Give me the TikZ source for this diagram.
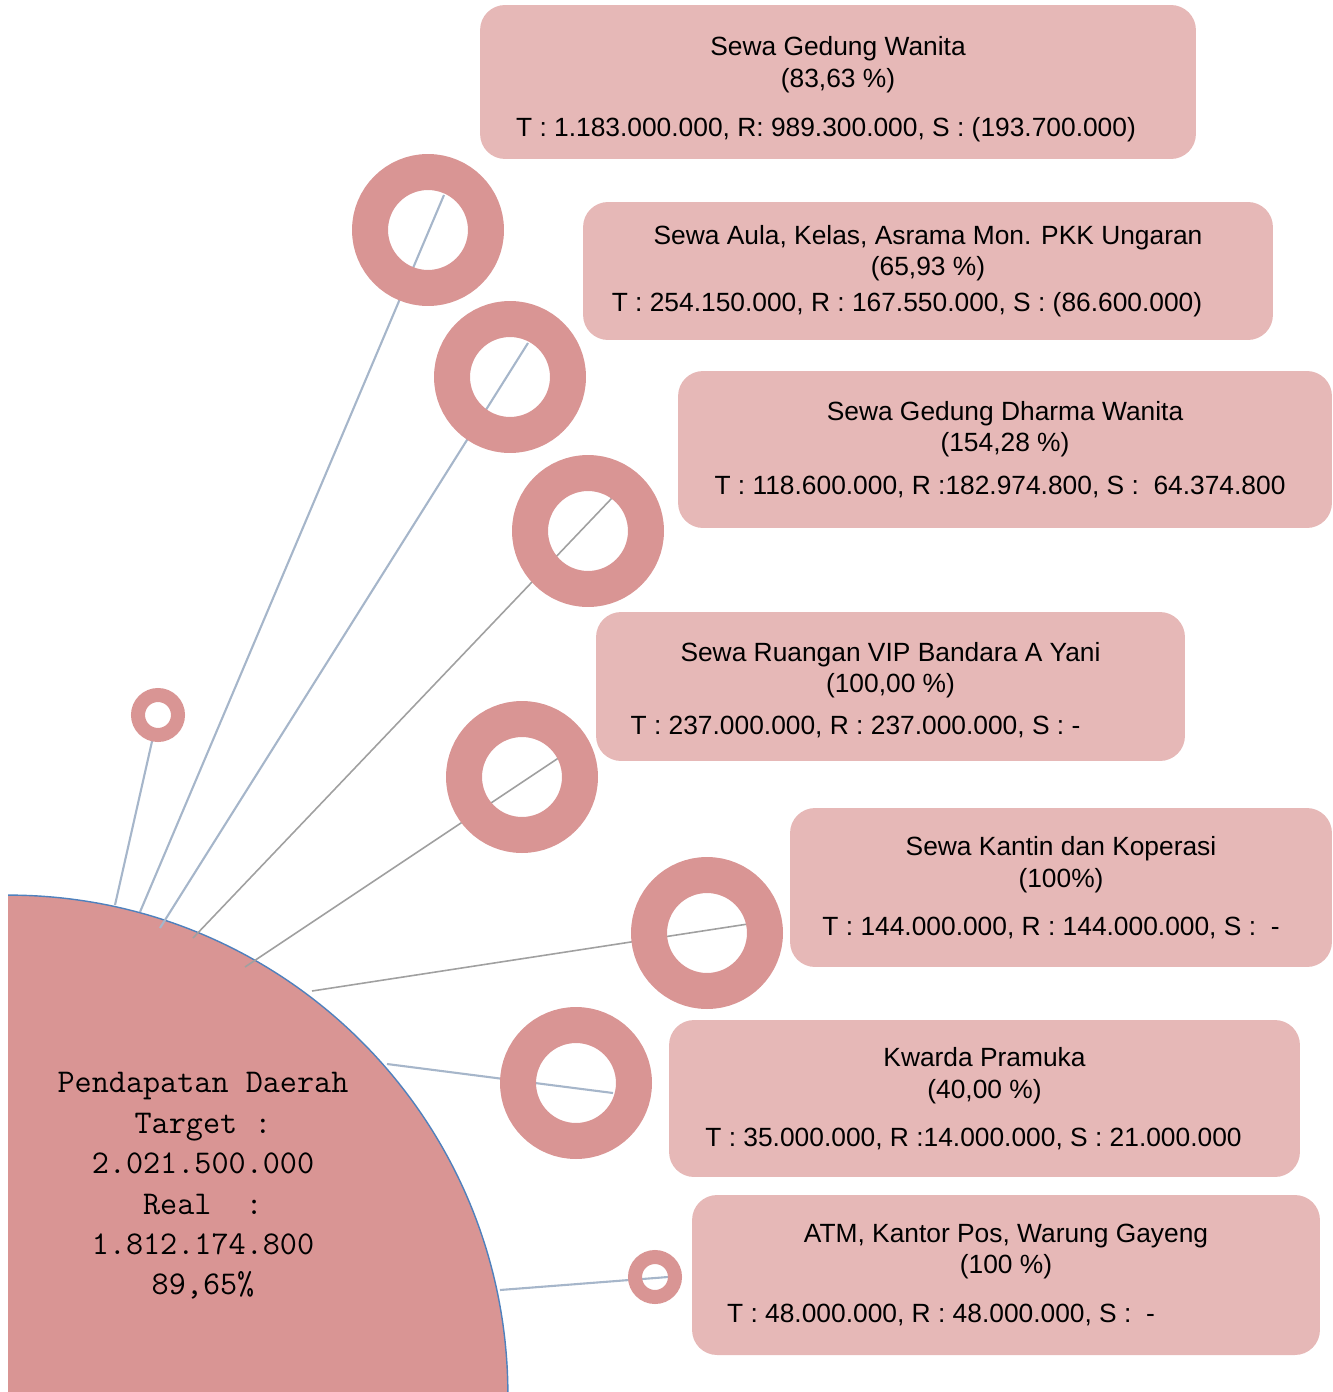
\documentclass[tikz,border=0pt]{standalone}
\usepackage{fontspec}
\setmainfont{Liberation Sans}
\usetikzlibrary{backgrounds}
\definecolor{ringred}{RGB}{217,149,148}
\definecolor{boxpink}{RGB}{230,184,183}
\definecolor{arcblue}{RGB}{79,129,189}
\definecolor{linkblue}{RGB}{166,182,202}
\definecolor{linkgray}{RGB}{160,160,160}
\tikzset{
  ring/.style={circle, draw=ringred, line width=0.72cm, minimum size=2.32cm, inner sep=0pt},
  smallring/.style={circle, draw=ringred, line width=0.28cm, minimum size=0.8cm, inner sep=0pt},
  infobox/.style={rounded corners=0.5cm, fill=boxpink, align=center, inner sep=0pt,
    font=\fontsize{15}{18}\selectfont},
  linkb/.style={linkblue, line width=1.2pt},
  linkg/.style={linkgray, line width=0.9pt},
}

\begin{document}
\begin{tikzpicture}[x=0.02cm, y=-0.02cm]
      \useasboundingbox (0,0) rectangle (1332,1392);
      \begin{pgfonlayer}{background}
        \begin{scope}
          \clip (8,0) rectangle (1332,1392);
          \node[circle, fill=ringred, draw=arcblue, line width=0.8pt, minimum size=20cm] (pd) at (8,1395) {};
        \end{scope}
      \end{pgfonlayer}
      \node[font=\ttfamily\fontsize{18.9}{23}\selectfont, align=center] (pdtext) at (203,1186)
        {Pendapatan Daerah\\Target :\\2.021.500.000\\Real\ \ :\\1.812.174.800\\89,65\%};

      \node[smallring] (sr1) at (158,715) {};
      \node[ring] (r1) at (428,230) {};
      \node[ring] (r2) at (510,377) {};
      \node[ring] (r3) at (588,531) {};
      \node[ring] (r4) at (522,777) {};
      \node[ring] (r5) at (707,933) {};
      \node[ring] (r6) at (576,1083) {};
      \node[smallring] (sr2) at (655,1277) {};

      \node[infobox, minimum width=14.32cm, minimum height=3.08cm] (gedung) at (838,82)
        {\rule{0pt}{19pt}Sewa Gedung Wanita\\(83,63 \%)\\[10pt]T : 1.183.000.000, R: 989.300.000, S : (193.700.000)\hspace*{0.48cm}};
      \node[infobox, minimum width=13.8cm, minimum height=2.76cm] (aula) at (928,271)
        {Sewa Aula, Kelas, Asrama Mon. PKK Ungaran\\(65,93 \%)\\[2.5pt]T : 254.150.000, R : 167.550.000, S : (86.600.000)\hspace*{0.84cm}};
      \node[infobox, minimum width=13.08cm, minimum height=3.14cm] (dharma) at (1005,449.5)
        {Sewa Gedung Dharma Wanita\\(154,28 \%)\\[6.5pt]T : 118.600.000, R :182.974.800, S :\ \ 64.374.800\hspace*{0.2cm}};
      \node[infobox, minimum width=11.78cm, minimum height=2.98cm] (vip) at (890.5,686.5)
        {\rule{0pt}{15pt}Sewa Ruangan VIP Bandara A Yani\\(100,00 \%)\\[6pt]T : 237.000.000, R : 237.000.000, S : -\hspace*{1.4cm}};
      \node[infobox, minimum width=10.84cm, minimum height=3.18cm] (kantin) at (1061,887.5)
        {Sewa Kantin dan Koperasi\\(100\%)\\[9.3pt]T : 144.000.000, R : 144.000.000, S :\ \ -\hspace*{0.4cm}};
      \node[infobox, minimum width=12.62cm, minimum height=3.14cm] (pramuka) at (984.5,1098.5)
        {Kwarda Pramuka\\(40,00 \%)\\[9.3pt]T : 35.000.000, R :14.000.000, S : 21.000.000\hspace*{0.44cm}};
      \node[infobox, minimum width=12.56cm, minimum height=3.2cm] (atm) at (1006,1275)
        {ATM, Kantor Pos, Warung Gayeng\\(100 \%)\\[10pt]T : 48.000.000, R : 48.000.000, S :\ \ -\hspace*{2.6cm}};

      \coordinate (a1) at (115,905);
      \coordinate (a2) at (140,912);
      \coordinate (a3) at (160,928);
      \coordinate (a4) at (193,938);
      \coordinate (a5) at (245,967);
      \coordinate (a6) at (312,991);
      \coordinate (a7) at (387,1064);
      \coordinate (a8) at (500,1290);
      \begin{pgfonlayer}{background}
        \draw[linkb] (a1) -- ([shift={(-5,22)}]sr1.center);
        \draw[linkb] (a2) -- ([shift={(16,-35)}]r1.center);
        \draw[linkb] (a3) -- ([shift={(18,-34)}]r2.center);
        \draw[linkg] (a4) -- ([shift={(24,-33)}]r3.center);
        \draw[linkg] (a5) -- ([shift={(38,-20)}]r4.center);
        \draw[linkg] (a6) -- ([shift={(41,-9)}]r5.center);
        \draw[linkb] (a7) -- ([shift={(37,10)}]r6.center);
        \draw[linkb] (a8) -- ([shift={(13,0)}]sr2.center);
      \end{pgfonlayer}
    \end{tikzpicture}
\end{document}
